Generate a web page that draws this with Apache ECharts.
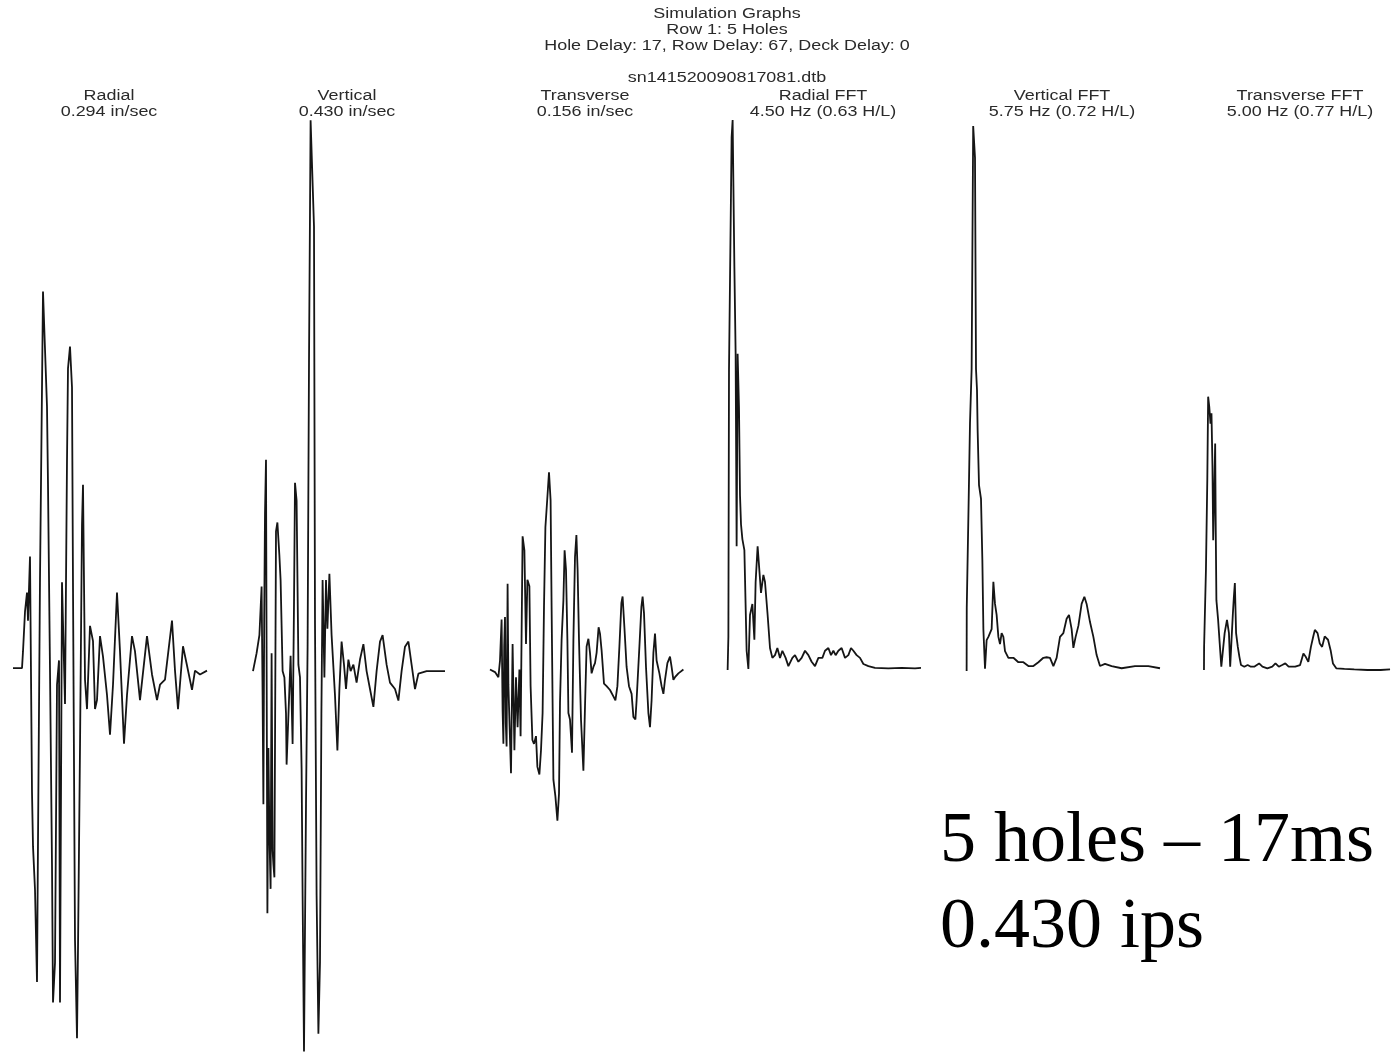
<!DOCTYPE html>
<html>
<head>
<meta charset="utf-8">
<style>
html,body{margin:0;padding:0;background:#fff;}
#chart{width:1393px;height:1057px;}
</style>
<script src="https://cdn.jsdelivr.net/npm/echarts@6/dist/echarts.min.js"></script>
</head>
<body>
<div id="chart"></div>
<script>
// ---- Header text ----
const headerLines = ['Simulation Graphs', 'Row 1: 5 Holes', 'Hole Delay: 17, Row Delay: 67, Deck Delay: 0', '', 'sn141520090817081.dtb'];
const panelNames = ['Radial', 'Vertical', 'Transverse', 'Radial FFT', 'Vertical FFT', 'Transverse FFT'];
const panelValues = ['0.294 in/sec', '0.430 in/sec', '0.156 in/sec', '4.50 Hz (0.63 H/L)', '5.75 Hz (0.72 H/L)', '5.00 Hz (0.77 H/L)'];
const noteLines = ['5 holes \u2013 17ms', '0.430 ips'];

// ---- Velocity time histories: [time ms, velocity in/sec] ----
const radialWave = [[0,0],[45,0],[50,0.013],[60,0.044],[70,0.059],[75,0.037],[85,0.087],[95,-0.097],[100,-0.139],[110,-0.173],[120,-0.245],[125,-0.135],[135,0.070],[145,0.219],[150,0.294],[170,0.204],[175,0.143],[185,-0.002],[195,-0.154],[200,-0.261],[210,-0.230],[220,-0.013],[230,0.006],[235,-0.261],[245,0.067],[260,-0.028],[270,0.162],[275,0.234],[285,0.251],[295,0.219],[300,0.063],[310,-0.212],[320,-0.289],[325,-0.219],[335,-0.062],[345,0.112],[350,0.143],[360,-0.009],[370,-0.032],[385,0.033],[400,0.021],[410,-0.032],[420,-0.025],[435,0.025],[450,0.009],[470,-0.021],[485,-0.052],[500,-0.013],[520,0.059],[535,0.013],[555,-0.059],[570,-0.021],[595,0.025],[610,0.013],[635,-0.025],[670,0.025],[695,-0.005],[720,-0.025],[735,-0.013],[760,-0.009],[795,0.037],[810,-0.002],[825,-0.032],[850,0.017],[870,0.002],[895,-0.017],[910,-0.002],[935,-0.005],[970,-0.002]];

const verticalWave = [[0,0],[18,0.014],[32,0.028],[43,0.066],[48,-0.02],[52,-0.104],[56,0.04],[60,0.123],[65,0.165],[72,-0.189],[77,-0.06],[82,-0.127],[88,-0.17],[93,0.014],[98,-0.14],[102,-0.151],[107,-0.161],[115,0.109],[122,0.116],[132,0.090],[138,0.071],[148,0],[157,-0.005],[165,-0.033],[168,-0.073],[182,-0.014],[188,0.012],[198,-0.057],[205,0.052],[210,0.147],[218,0.133],[227,0.005],[235,-0.005],[243,-0.076],[248,-0.175],[255,-0.297],[265,-0.104],[273,0.019],[280,0.241],[288,0.430],[305,0.347],[310,0.037],[318,-0.175],[327,-0.283],[335,-0.227],[342,-0.033],[348,0.071],[357,-0.005],[365,0.071],[372,0.033],[382,0.076],[393,0.028],[410,-0.019],[422,-0.062],[432,-0.014],[443,0.023],[455,0.005],[465,-0.014],[477,0.009],[488,0],[502,0.005],[518,-0.009],[535,0.009],[552,0.021],[568,0],[585,-0.014],[602,-0.028],[618,0],[635,0.023],[648,0.028],[668,0.005],[685,-0.009],[710,-0.014],[727,-0.023],[743,0],[760,0.019],[777,0.023],[793,0.005],[810,-0.014],[827,-0.002],[868,0],[960,0]];

const transverseWave = [[0,0.002],[25,0],[42,-0.004],[50,0.009],[58,0.041],[63,-0.03],[67,-0.056],[71,0.02],[75,0.043],[79,-0.04],[83,-0.058],[88,0.069],[92,-0.01],[97,-0.037],[105,-0.079],[113,0.022],[122,-0.061],[130,-0.004],[138,-0.043],[147,0.002],[153,-0.050],[158,0.030],[163,0.106],[172,0.095],[180,0.022],[187,0.072],[197,0.067],[203,-0.011],[212,-0.053],[220,-0.056],[230,-0.050],[237,-0.074],[247,-0.080],[255,-0.061],[263,-0.032],[270,0.051],[277,0.113],[285,0.132],[295,0.156],[303,0.134],[308,0.051],[317,-0.084],[327,-0.097],[337,-0.116],[345,-0.095],[350,-0.024],[358,0.025],[367,0.056],[373,0.095],[380,0.080],[387,0.025],[392,-0.032],[400,-0.037],[410,-0.063],[417,0.025],[425,0.090],[432,0.107],[438,0.080],[445,0.025],[455,-0.037],[467,-0.077],[475,-0.027],[483,0.020],[492,0.026],[500,0.015],[508,-0.001],[517,0.004],[525,0.007],[533,0.015],[543,0.035],[550,0.030],[558,0.017],[570,-0.009],[583,-0.011],[600,-0.014],[617,-0.019],[627,-0.022],[637,-0.011],[647,0.020],[657,0.054],[663,0.059],[672,0.035],[683,0.004],[695,-0.011],[708,-0.017],[717,-0.035],[727,-0.037],[733,-0.022],[747,0.020],[757,0.051],[763,0.059],[770,0.046],[780,0.004],[792,-0.032],[800,-0.043],[808,-0.022],[817,0.015],[825,0.030],[833,0.009],[847,-0.001],[858,-0.011],[867,-0.017],[875,-0.006],[887,0.007],[900,0.012],[908,0.004],[917,-0.006],[925,-0.004],[942,-0.001],[967,0.002]];

// ---- FFT spectra: [frequency Hz, relative amplitude] ----
const radialFFT = [[0.5,0],[1.1,0.06],[1.6,0.547],[3.7,0.969],[4.5,1.0],[5.9,0.733],[6.9,0.575],[7.7,0.225],[8.5,0.575],[9.6,0.476],[10.4,0.318],[11.2,0.265],[12.3,0.238],[13.9,0.218],[15.7,0.035],[17.1,0.002],[18.4,0.1],[20.3,0.12],[21.9,0.055],[22.9,0.16],[24.5,0.225],[25.9,0.225],[27.2,0.14],[29.1,0.173],[30.4,0.16],[32.5,0.1],[34.4,0.04],[36.3,0.022],[38.4,0.027],[40.3,0.04],[42.4,0.022],[44.3,0.035],[46.9,0.022],[49.1,0.007],[52.3,0.022],[54.4,0.027],[57.1,0.015],[59.7,0.022],[62.4,0.035],[65.1,0.027],[67.7,0.015],[70.4,0.007],[73.1,0.022],[76.3,0.022],[78.4,0.035],[81.1,0.04],[83.2,0.027],[85.1,0.035],[86.9,0.027],[89.1,0.035],[91.7,0.04],[94.4,0.022],[97.1,0.027],[99.2,0.04],[101.1,0.035],[103.7,0.027],[106.4,0.022],[109.1,0.011],[113.1,0.007],[118.4,0.004],[129.1,0.003],[139.7,0.004],[150.4,0.003],[155.2,0.004]];

const verticalFFT = [[0.5,0],[0.6,0.115],[1.9,0.28],[3.2,0.451],[4.5,0.549],[5.75,0.991],[7.2,0.933],[8.0,0.549],[8.8,0.511],[9.3,0.438],[10.4,0.338],[12.0,0.313],[13.1,0.2],[13.9,0.076],[15.2,0.004],[16.5,0.056],[17.9,0.062],[19.2,0.062],[20.5,0.076],[21.9,0.162],[23.2,0.122],[24.5,0.102],[25.9,0.062],[27.2,0.049],[28.5,0.069],[29.9,0.062],[31.2,0.036],[33.9,0.024],[37.9,0.024],[41.9,0.016],[45.9,0.016],[49.9,0.009],[53.9,0.009],[57.9,0.016],[61.9,0.024],[64.5,0.025],[67.2,0.024],[69.9,0.009],[72.5,0.024],[75.2,0.062],[77.9,0.069],[80.5,0.095],[82.4,0.102],[84.5,0.076],[85.9,0.042],[87.7,0.062],[89.9,0.082],[92.5,0.122],[94.7,0.135],[96.5,0.122],[99.2,0.089],[101.9,0.062],[104.5,0.029],[107.2,0.009],[111.2,0.013],[116.5,0.009],[124.5,0.005],[135.2,0.009],[145.9,0.009],[155.2,0.005]];

const transverseFFT = [[1.6,0],[1.7,0.042],[3.2,0.182],[4.3,0.345],[5.0,0.497],[5.9,0.479],[6.9,0.448],[7.7,0.467],[8.5,0.370],[9.1,0.236],[9.9,0.315],[10.7,0.412],[11.2,0.248],[11.7,0.127],[13.1,0.091],[14.4,0.048],[15.7,0.006],[17.1,0.006],[18.4,0.067],[20.3,0.091],[21.9,0.067],[22.9,0.006],[24.0,0.055],[25.1,0.103],[25.9,0.133],[26.7,0.158],[27.7,0.067],[29.1,0.042],[30.4,0.024],[31.7,0.009],[34.4,0.006],[37.1,0.009],[39.7,0.006],[42.4,0.006],[46.4,0.012],[49.1,0.006],[53.1,0.003],[57.1,0.006],[59.7,0.012],[62.4,0.006],[65.1,0.009],[67.7,0.012],[70.4,0.006],[75.7,0.006],[79.7,0.009],[82.4,0.030],[84.3,0.024],[86.4,0.015],[88.5,0.042],[90.4,0.061],[91.7,0.073],[93.9,0.067],[95.7,0.048],[97.6,0.042],[99.7,0.061],[101.1,0.064],[102.4,0.055],[104.5,0.036],[106.4,0.012],[109.1,0.003],[115.7,0.002],[123.7,0.001],[134.4,0],[145.1,0],[152.8,0.001]];

// ---- Layout ----
const panelData = [radialWave, verticalWave, transverseWave, radialFFT, verticalFFT, transverseFFT];
const grids = [
  {left:13,   top:104.4, width:194, height:948},
  {left:253,  top:107.4, width:194, height:948},
  {left:488,  top:108.4, width:194, height:948},
  {left:727,  top:65,    width:194, height:660},
  {left:966,  top:66,    width:194, height:660},
  {left:1202, top:65,    width:194, height:660}
];
const xRanges = [[0,970],[0,970],[-10,960],[0,155.2],[0,155.2],[0,155.2]];
const yRanges = [[-0.30,0.44],[-0.30,0.44],[-0.30,0.44],[-0.1,1.1],[-0.1,1.1],[-0.1,1.1]];
const titleCenters = [109, 347, 585, 823, 1062, 1300];

const chart = echarts.init(document.getElementById('chart'), null, {renderer:'canvas'});

const smallFont = '14px "Liberation Sans", Arial, sans-serif';
const textColor = '#2a2a2a';
const graphic = [];
headerLines.forEach((t, i) => {
  if (!t) return;
  graphic.push({type:'text', x:727, y:14 + i*16, scaleX:1.28,
    style:{text:t, font:smallFont, fill:textColor, textAlign:'center', textVerticalAlign:'middle'}});
});
panelNames.forEach((t, i) => {
  graphic.push({type:'text', x:titleCenters[i], y:96, scaleX:1.28,
    style:{text:t, font:smallFont, fill:textColor, textAlign:'center', textVerticalAlign:'middle'}});
  graphic.push({type:'text', x:titleCenters[i], y:112, scaleX:1.28,
    style:{text:panelValues[i], font:smallFont, fill:textColor, textAlign:'center', textVerticalAlign:'middle'}});
});
noteLines.forEach((t, i) => {
  graphic.push({type:'text', x:940, y:842 + i*86,
    style:{text:t, font:'72px "Liberation Serif", "Times New Roman", serif', fill:'#000', textAlign:'left', textVerticalAlign:'middle'}});
});

const option = {
  animation: false,
  backgroundColor: '#fff',
  grid: grids.map(g => Object.assign({containLabel:false}, g)),
  xAxis: xRanges.map((r, i) => ({type:'value', gridIndex:i, min:r[0], max:r[1], show:false})),
  yAxis: yRanges.map((r, i) => ({type:'value', gridIndex:i, min:r[0], max:r[1], show:false})),
  series: panelData.map((d, i) => ({
    type:'line', xAxisIndex:i, yAxisIndex:i, data:d, showSymbol:false, symbol:'none',
    clip:false, lineStyle:{color:'#151515', width:1.8}, silent:true
  })),
  graphic: graphic
};
chart.setOption(option);
</script>
</body>
</html>
